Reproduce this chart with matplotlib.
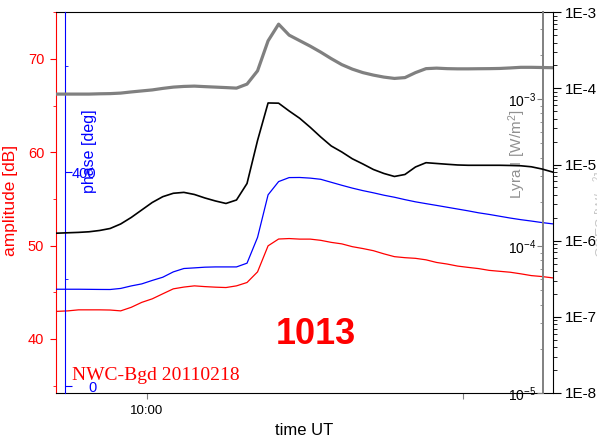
import numpy as np
import matplotlib
matplotlib.use('Agg')
import matplotlib.pyplot as plt
from matplotlib.ticker import MultipleLocator, LogLocator, FuncFormatter, NullFormatter

plt.rcParams['font.family'] = ['Liberation Sans', 'DejaVu Sans']
plt.rcParams['mathtext.default'] = 'regular'

# minutes after 10:00 UT (samples at half minutes)
minutes = np.arange(-9.5, 39, 1.0)

amplitude = [42.90, 42.95, 43.00, 43.11, 43.11, 43.11, 43.09, 43.00, 43.38, 43.91,
             44.29, 44.83, 45.36, 45.55, 45.68, 45.60, 45.54, 45.50, 45.68, 46.04,
             47.18, 49.97, 50.70, 50.75, 50.69, 50.69, 50.56, 50.34, 50.18, 49.88,
             49.68, 49.45, 49.11, 48.81, 48.70, 48.63, 48.47, 48.19, 48.02, 47.80,
             47.66, 47.53, 47.34, 47.24, 47.14, 46.97, 46.78, 46.68, 46.54]

phase = [181.3, 181.3, 181.3, 181.3, 181.1, 180.9, 180.8, 182.8, 187.5, 191.3,
         197.8, 203.8, 213.8, 220.1, 221.3, 222.6, 223.1, 223.1, 223.1, 230.1,
         278.4, 358.1, 382.9, 390.4, 390.6, 389.4, 387.2, 381.6, 376.0, 370.7,
         366.0, 361.9, 357.4, 353.6, 349.1, 345.0, 341.6, 338.3, 334.9, 331.5,
         328.1, 324.4, 321.4, 318.0, 314.6, 311.6, 309.0, 306.2, 303.8]

xray = [1.244e-6, 1.256e-6, 1.271e-6, 1.286e-6, 1.310e-6, 1.362e-6, 1.447e-6, 1.658e-6, 2.018e-6, 2.532e-6,
        3.177e-6, 3.786e-6, 4.196e-6, 4.312e-6, 4.047e-6, 3.640e-6, 3.325e-6, 3.083e-6, 3.425e-6, 5.642e-6,
        2.072e-5, 6.44e-5, 6.40e-5, 5.055e-5, 4.055e-5, 3.087e-5, 2.302e-5, 1.754e-5, 1.463e-5, 1.191e-5,
        1.018e-5, 8.617e-6, 7.636e-6, 6.975e-6, 7.409e-6, 9.295e-6, 1.058e-5, 1.033e-5, 1.009e-5, 9.874e-6,
        9.784e-6, 9.784e-6, 9.784e-6, 9.784e-6, 9.725e-6, 9.638e-6, 9.350e-6, 8.749e-6, 7.991e-6]

lyra = [1.082e-3, 1.082e-3, 1.082e-3, 1.082e-3, 1.082e-3, 1.087e-3, 1.090e-3, 1.099e-3, 1.119e-3, 1.137e-3,
        1.155e-3, 1.183e-3, 1.207e-3, 1.220e-3, 1.226e-3, 1.216e-3, 1.207e-3, 1.198e-3, 1.188e-3, 1.265e-3,
        1.558e-3, 2.492e-3, 3.237e-3, 2.725e-3, 2.500e-3, 2.294e-3, 2.088e-3, 1.886e-3, 1.717e-3, 1.600e-3,
        1.515e-3, 1.457e-3, 1.412e-3, 1.383e-3, 1.401e-3, 1.515e-3, 1.612e-3, 1.625e-3, 1.612e-3, 1.607e-3,
        1.607e-3, 1.610e-3, 1.612e-3, 1.617e-3, 1.630e-3, 1.646e-3, 1.646e-3, 1.641e-3, 1.636e-3]

time_ticks = [0, 30]
time_labels = ['10:00', '']

fig = plt.figure(figsize=(5.97, 4.43), dpi=100)
ax = fig.add_axes([0.0933, 0.1129, 0.8330, 0.8594])

# amplitude (red, left)
ax.plot(minutes, amplitude, color='red', lw=0.9)
ax.set_xlim(-8.67, 38.56)
ax.set_ylim(34.2, 75)
ax.yaxis.set_major_locator(MultipleLocator(10))
ax.yaxis.set_minor_locator(MultipleLocator(5))
ax.tick_params(axis='y', which='major', colors='red', labelsize=10.5, length=4.3, pad=4)
ax.tick_params(axis='y', which='minor', colors='red', length=2.4)
ax.spines['left'].set_color('red')
ax.spines['right'].set_visible(False)
ax.set_ylabel('amplitude [dB]', color='red', fontsize=12.5)
ax.yaxis.set_label_coords(-0.076, 0.507)
ax.set_xticks(time_ticks)
ax.set_xticklabels(time_labels)
ax.tick_params(axis='x', which='major', color='gray', labelcolor='black', labelsize=9.5, length=4, pad=5)
ax.set_xlabel('time UT', fontsize=12, labelpad=4)

# phase (blue, inner left)
axp = ax.twinx()
axp.plot(minutes, phase, color='blue', lw=0.9)
axp.set_ylim(-13, 700)
for s in ['left', 'top', 'bottom']:
    axp.spines[s].set_visible(False)
axp.spines['right'].set_position(('axes', 0.0187))
axp.spines['right'].set_color('blue')
axp.yaxis.set_major_locator(MultipleLocator(400))
axp.yaxis.set_minor_locator(MultipleLocator(200))
axp.tick_params(axis='y', which='major', colors='blue', labelsize=10.5, length=4.8, pad=18)
axp.tick_params(axis='y', which='minor', colors='blue', length=2.4)
for lab in axp.get_yticklabels():
    lab.set_horizontalalignment('right')
ax.text(0.067, 0.636, 'phase [deg]', transform=ax.transAxes, rotation=90,
        color='blue', fontsize=11.5, ha='center', va='center')

# Lyra (gray, inner right)
axl = ax.twinx()
axl.plot(minutes, lyra, color='#808080', lw=2.3)
axl.set_yscale('log')
axl.set_ylim(1e-5, 3.9e-3)
for s in ['right', 'top', 'bottom']:
    axl.spines[s].set_visible(False)
axl.yaxis.tick_left()
axl.spines['left'].set_position(('axes', 0.9799))
axl.spines['left'].set_color('#808080')
axl.spines['left'].set_linewidth(1.4)
axl.yaxis.set_major_locator(LogLocator(base=10))
axl.yaxis.set_minor_locator(LogLocator(base=10, subs=np.arange(2, 10)))
axl.yaxis.set_major_formatter(FuncFormatter(lambda v, p: '10$^{%d}$' % round(np.log10(v))))
axl.yaxis.set_minor_formatter(NullFormatter())
axl.tick_params(axis='y', which='major', color='#808080', labelcolor='black', labelsize=10, length=4, pad=1)
axl.tick_params(axis='y', which='minor', color='#808080', length=2.5)
ax.text(0.9276, 0.627, 'Lyra I [W/m$^2$]', transform=ax.transAxes, rotation=90,
        color='#909090', fontsize=11, ha='center', va='center')

# X-ray flux (black, outer right)
axg = ax.twinx()
axg.plot(minutes, xray, color='black', lw=1.2)
axg.set_yscale('log')
axg.set_ylim(1e-8, 1e-3)
for s in ['left', 'top', 'bottom']:
    axg.spines[s].set_visible(False)
axg.yaxis.set_major_locator(LogLocator(base=10))
axg.yaxis.set_minor_locator(LogLocator(base=10, subs=np.arange(2, 10)))
axg.yaxis.set_major_formatter(FuncFormatter(lambda v, p: '1E%d' % round(np.log10(v))))
axg.yaxis.set_minor_formatter(NullFormatter())
axg.tick_params(axis='y', which='major', labelsize=11, length=5.5, pad=3)
axg.tick_params(axis='y', which='minor', length=3)

# second flux label, mostly hidden behind the right edge
fig.text(0.991, 0.515, 'GOES [W/m$^2$]', rotation=90, color='#c8c8c8',
         fontsize=10, ha='left', va='center')

fig.text(0.1206, 0.1422, 'NWC-Bgd 20110218', color='red', fontsize=14,
         family='Liberation Serif', ha='left', va='baseline')
fig.text(0.529, 0.244, '1013', color='red', fontsize=26, fontweight='bold',
         ha='center', va='center')

fig.savefig('out.png', dpi=100)
